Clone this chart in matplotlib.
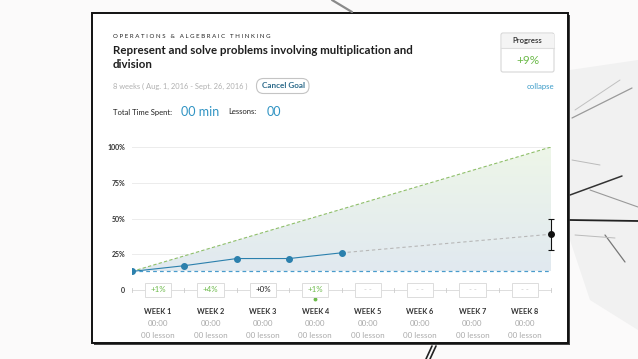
import matplotlib
matplotlib.use("Agg")
import matplotlib.pyplot as plt
import numpy as np
from matplotlib.patches import Rectangle, FancyBboxPatch, Polygon
from matplotlib import transforms

plt.rcParams['font.family'] = ['Lato', 'DejaVu Sans']

# ---------------- data ----------------
weeks = ["WEEK 1", "WEEK 2", "WEEK 3", "WEEK 4", "WEEK 5", "WEEK 6", "WEEK 7", "WEEK 8"]
week_time = ["00:00"] * 8
week_lessons = ["00 lesson"] * 8
week_change = ["+1%", "+4%", "+0%", "+1%", "- -", "- -", "- -", "- -"]
progress_x = [0, 1, 2, 3, 4]
progress_y = [13, 17, 22, 22, 26]
baseline = 13
target_x = [0, 8]
target_y = [13, 100]
projection_x = [4, 8]
projection_y = [26, 39]
estimate = 39
estimate_low = 28
estimate_high = 50
yticks = [0, 25, 50, 75, 100]
ytick_labels = ["0", "25%", "50%", "75%", "100%"]

W, H = 638, 359
fig = plt.figure(figsize=(W / 100, H / 100), dpi=100, facecolor="#fbfafa")

# background / card axes in pixel coords
bg = fig.add_axes([0, 0, 1, 1])
bg.set_xlim(0, W)
bg.set_ylim(H, 0)
bg.axis("off")
bg.set_facecolor("none")

# decorative scribbles
bg.add_patch(Polygon([[570, 70], [638, 60], [638, 330], [590, 300], [570, 240]],
                     closed=True, facecolor="#f1f1f1", edgecolor="none"))
scrib = [
    ((572, 118), (632, 88), "#9a9a9a", 0.9),
    ((575, 110), (620, 80), "#c0c0c0", 0.7),
    ((572, 160), (600, 165), "#bbbbbb", 0.7),
    ((570, 195), (622, 176), "#333333", 1.1),
    ((570, 220), (638, 221), "#222222", 1.3),
    ((590, 190), (638, 207), "#999999", 0.8),
    ((605, 235), (625, 262), "#777777", 0.9),
    ((575, 235), (615, 238), "#bbbbbb", 0.7),
    ((332, 0), (352, 12), "#8a8a8a", 1.6),
    ((426, 359), (432, 346), "#222222", 1.2),
    ((430, 359), (436, 346), "#222222", 1.2),
]
for (x0, y0), (x1, y1), c, lw in scrib:
    bg.plot([x0, x1], [y0, y1], color=c, lw=lw, solid_capstyle="round")

# card shadow + card
bg.add_patch(Rectangle((93.5, 14.5), 476, 330.5, facecolor="#444444", edgecolor="none"))
bg.add_patch(Rectangle((92, 13), 476, 330, facecolor="white", edgecolor="#111111", lw=1.4))

# header texts
bg.text(113, 36, "O P E R A T I O N S   &   A L G E B R A I C   T H I N K I N G",
        fontsize=4.4, color="#222222", va="center", ha="left")
bg.text(113, 51, "Represent and solve problems involving multiplication and",
        fontsize=8.3, color="#1e1e1e", va="center", ha="left", fontweight="bold")
bg.text(113, 65, "division", fontsize=8.3, color="#1e1e1e", va="center", ha="left",
        fontweight="bold")
bg.text(113, 86, "8 weeks ( Aug. 1, 2016 - Sept. 26, 2016 )", fontsize=5.4,
        color="#b0b0b0", va="center", ha="left")
bg.add_patch(FancyBboxPatch((256.5, 78.5), 52.5, 15, boxstyle="round,pad=0,rounding_size=7",
                            facecolor="white", edgecolor="#c4c4c4", lw=0.8))
bg.text(283, 86, "Cancel Goal", fontsize=5.9, color="#2b6a8a", va="center", ha="center",
        fontweight="bold")
bg.text(113, 112, "Total Time Spent:", fontsize=5.5, color="#222222", va="center", ha="left")
bg.text(181, 112, "00 min", fontsize=9, color="#2f93c3", va="center", ha="left")
bg.text(228, 112, "Lessons:", fontsize=5.5, color="#222222", va="center", ha="left")
bg.text(267, 112, "00", fontsize=9, color="#2f93c3", va="center", ha="left")

# progress box
bg.add_patch(FancyBboxPatch((501, 33), 53, 39, boxstyle="round,pad=0,rounding_size=2",
                            facecolor="white", edgecolor="#d6d6d6", lw=0.8))
bg.add_patch(Rectangle((501.5, 33.5), 52, 14, facecolor="#f4f4f4", edgecolor="none"))
bg.plot([501, 554], [48, 48], color="#dddddd", lw=0.8)
bg.text(527.5, 41, "Progress", fontsize=5.6, color="#333333", va="center", ha="center",
        fontweight="semibold")
bg.text(527.5, 61, "+9%", fontsize=8.5, color="#6cba4a", va="center", ha="center")
bg.text(554, 86, "collapse", fontsize=5.6, color="#3a9bc8", va="center", ha="right")

# ---------------- chart axes ----------------
x0p, x1p = 132, 551
y0p, y1p = 290, 147
ax = fig.add_axes([x0p / W, (H - y0p) / H, (x1p - x0p) / W, (y0p - y1p) / H])
ax.set_facecolor("none")
for s in ax.spines.values():
    s.set_visible(False)
ax.set_xticks([])
ax.set_yticks(yticks)
ax.set_yticklabels(ytick_labels)
ax.tick_params(axis="y", length=0, pad=5, labelsize=5, labelcolor="#333333")
for lbl in ax.get_yticklabels():
    lbl.set_fontweight("bold")

for t in yticks[1:]:
    ax.axhline(t, color="#ececec", lw=0.7, zorder=0)

# gradient fill between baseline and target
grad = np.linspace(0, 1, 256).reshape(-1, 1)
c_bot = np.array([0.882, 0.914, 0.941])
c_top = np.array([0.933, 0.965, 0.910])
img = c_bot + (c_top - c_bot) * grad[..., None] * np.ones((1, 1, 3))
im = ax.imshow(img, extent=[0, 8, baseline, 100], origin="lower", aspect="auto", zorder=1)
poly = Polygon([[target_x[0], baseline], [target_x[1], target_y[1]], [target_x[1], baseline]],
               closed=True, transform=ax.transData, facecolor="none", edgecolor="none")
ax.add_patch(poly)
im.set_clip_path(poly)
ax.set_xlim(0, 8)
ax.set_ylim(0, 100)

ax.plot(target_x, target_y, color="#8fbf6a", lw=0.8, dashes=(3, 2), zorder=2)
ax.plot([0, 8], [baseline, baseline], color="#4a9ccc", lw=0.9, dashes=(3, 2.5), zorder=2)
ax.plot(projection_x, projection_y, color="#b8b8b8", lw=0.8, dashes=(3, 2.5), zorder=2)
ax.plot(progress_x, progress_y, color="#2b80ad", lw=0.8, zorder=3)
ax.plot(progress_x, progress_y, "o", color="#2b80ad", ms=4, zorder=4)
ax.errorbar([8], [estimate], yerr=[[estimate - estimate_low], [estimate_high - estimate]],
            fmt="o", color="#111111", ms=4, elinewidth=0.8, capsize=2.5, capthick=0.8,
            zorder=5, clip_on=False)

# bottom row line with ticks
ax.plot([0, 8], [0, 0], color="#dddddd", lw=0.7, zorder=1, clip_on=False)
for i in range(9):
    ax.plot([i, i], [-1.2, 1.2], color="#cccccc", lw=0.6, clip_on=False)

bt = transforms.blended_transform_factory(ax.transData, bg.transData)
for i in range(8):
    xc = i + 0.5
    ax.add_patch(Rectangle((xc - 0.25, 283), 0.5, 14, transform=bt, facecolor="white",
                           edgecolor="#dcdcdc", lw=0.7, clip_on=False, zorder=3))
    ch = week_change[i]
    if ch == "- -":
        col = "#c8c8c8"
    elif ch == "+0%":
        col = "#222222"
    else:
        col = "#6cba4a"
    ax.text(xc, 290, ch, transform=bt, fontsize=5.7, color=col, ha="center", va="center",
            zorder=4)
    ax.text(xc, 311, weeks[i], transform=bt, fontsize=5.3, color="#333333", ha="center",
            va="center", fontweight="bold")
    ax.text(xc, 323, week_time[i], transform=bt, fontsize=5.8, color="#aaaaaa", ha="center",
            va="center")
    ax.text(xc, 335, week_lessons[i], transform=bt, fontsize=5.8, color="#aaaaaa",
            ha="center", va="center")
ax.plot([3.5], [299], "o", transform=bt, color="#6cba4a", ms=1.8, clip_on=False)

fig.savefig("out.png", dpi=100, facecolor=fig.get_facecolor())
